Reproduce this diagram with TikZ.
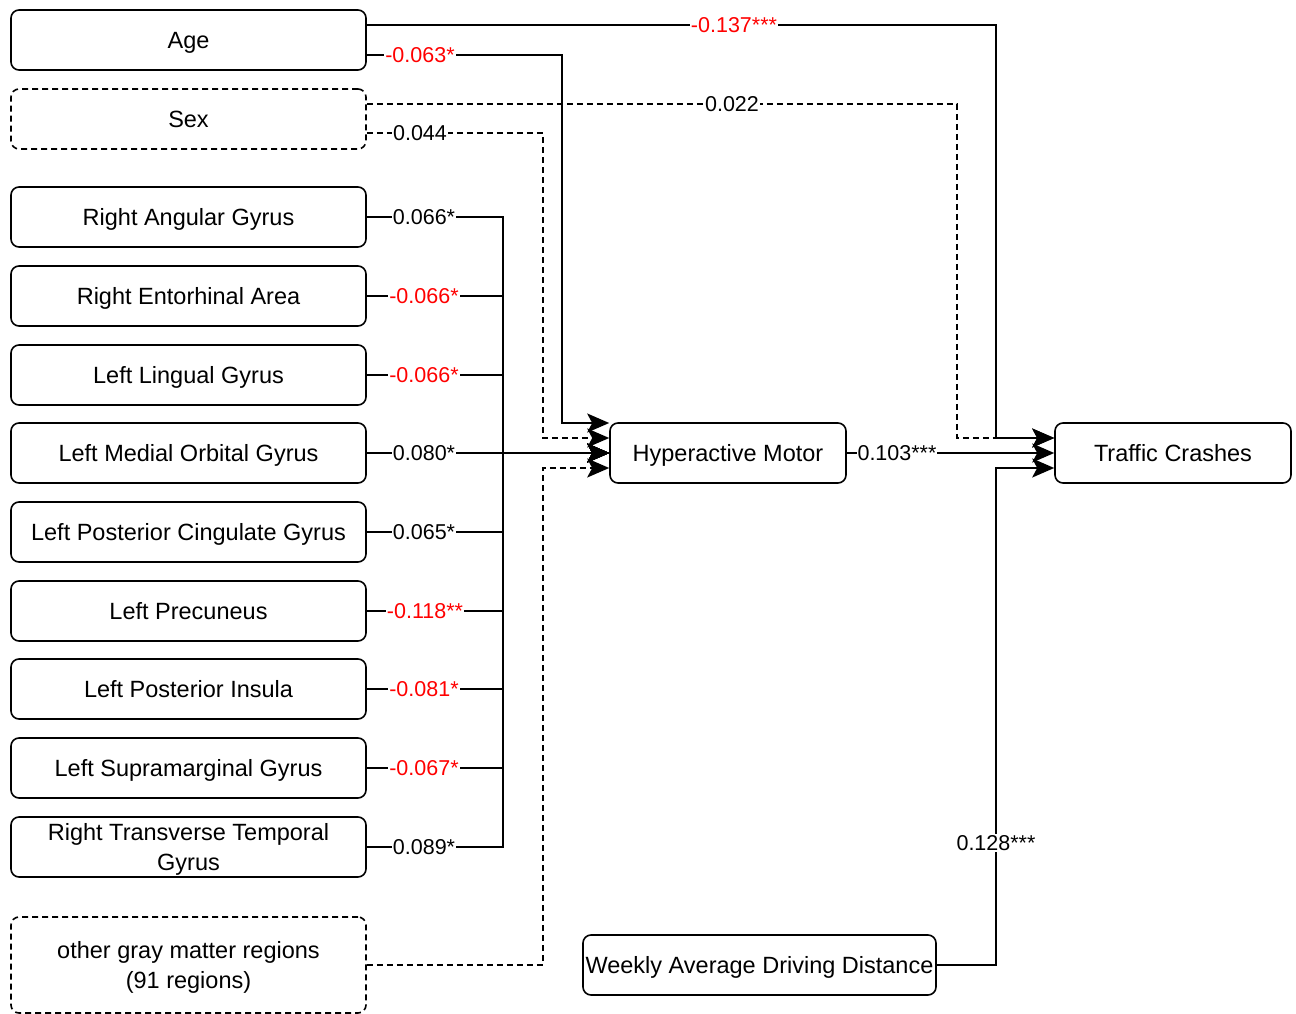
\documentclass[tikz,border=0pt]{standalone}
\usepackage{fontspec}
\setmainfont{Liberation Sans}
\usetikzlibrary{arrows.meta}
\begin{document}
\begin{tikzpicture}[x=1pt,y=-1pt,
 box/.style={draw, line width=1.6pt, rounded corners=8pt, minimum width=355pt, minimum height=60pt, inner sep=0pt, align=center, text depth=0pt, font=\fontsize{23.5}{30}\selectfont},
 one/.style={text height=16.8pt},
 dbox/.style={box, dash pattern=on 6pt off 4pt},
 conn/.style={line width=2pt},
 dconn/.style={conn, dash pattern=on 6pt off 4pt},
 arr/.style={-{Stealth[length=22pt,width=19pt,inset=5pt]}},
 lab/.style={fill=white, inner sep=1pt, text height=15.4pt, text depth=0pt, font=\fontsize{21.5}{24}\selectfont},
 rlab/.style={lab, text=red}]
\useasboundingbox (0,0) rectangle (1296,1014);

% nodes
\node[box,one] (age) at (188.5,40) {Age};
\node[dbox,one] (sex) at (188.5,119) {Sex};
\node[box,one] (r1) at (188.5,217) {Right Angular Gyrus};
\node[box,one] (r2) at (188.5,296) {Right Entorhinal Area};
\node[box,one] (r3) at (188.5,375) {Left Lingual Gyrus};
\node[box,one] (r4) at (188.5,453) {Left Medial Orbital Gyrus};
\node[box,one] (r5) at (188.5,532) {Left Posterior Cingulate Gyrus};
\node[box,one] (r6) at (188.5,611) {Left Precuneus};
\node[box,one] (r7) at (188.5,689) {Left Posterior Insula};
\node[box,one] (r8) at (188.5,768) {Left Supramarginal Gyrus};
\node[box] (r9) at (188.5,847) {Right Transverse Temporal\\Gyrus};
\node[dbox, minimum height=96pt] (other) at (188.5,965) {other gray matter regions\\(91 regions)};
\node[box,one, minimum width=236pt] (hm) at (728,453) {Hyperactive Motor};
\node[box,one, minimum width=236pt] (tc) at (1173,453) {Traffic Crashes};
\node[box,one, minimum width=353pt] (wadd) at (759.5,965) {Weekly Average Driving Distance};

% connectors
\draw[conn,arr] (age.east|-0,25) -- (996,25) -- (996,438) -- (tc.west|-0,438);
\draw[conn,arr] (age.east|-0,55) -- (562,55) -- (562,423) -- (hm.west|-0,423);
\draw[dconn,arr] (sex.east|-0,104) -- (957,104) -- (957,438) -- (tc.west|-0,438);
\draw[dconn,arr] (sex.east|-0,133) -- (543,133) -- (543,438) -- (hm.west|-0,438);
\foreach \r in {r1,r2,r3,r4,r5,r6,r7,r8,r9}{
  \draw[conn,arr] (\r.east) -- (\r.east-|503,0) -- (503,453) -- (hm.west|-0,453);
}
\draw[dconn,arr] (other.east) -- (543,965) -- (543,468) -- (hm.west|-0,468);
\draw[conn,arr] (hm.east) -- (tc.west|-0,453);
\draw[conn,arr] (wadd.east) -- (996,965) -- (996,468) -- (tc.west|-0,468);

% labels
\node[rlab] (l1) at (734,25) {-0.137***};
\node[rlab] (l2) at (420,55) {-0.063*};
\node[lab] (l3) at (732,104) {0.022};
\node[lab] (l4) at (420,133) {0.044};
\node[lab] (l5) at (424,217) {0.066*};
\node[rlab] (l6) at (424,296) {-0.066*};
\node[rlab] (l7) at (424,375) {-0.066*};
\node[lab] (l8) at (424,453) {0.080*};
\node[lab] (l9) at (424,532) {0.065*};
\node[rlab] (l10) at (425,611) {-0.118**};
\node[rlab] (l11) at (424,689) {-0.081*};
\node[rlab] (l12) at (424,768) {-0.067*};
\node[lab] (l13) at (424,847) {0.089*};
\node[lab] (l14) at (897,453) {0.103***};
\node[lab] (l15) at (996,843) {0.128***};
\end{tikzpicture}
\end{document}
